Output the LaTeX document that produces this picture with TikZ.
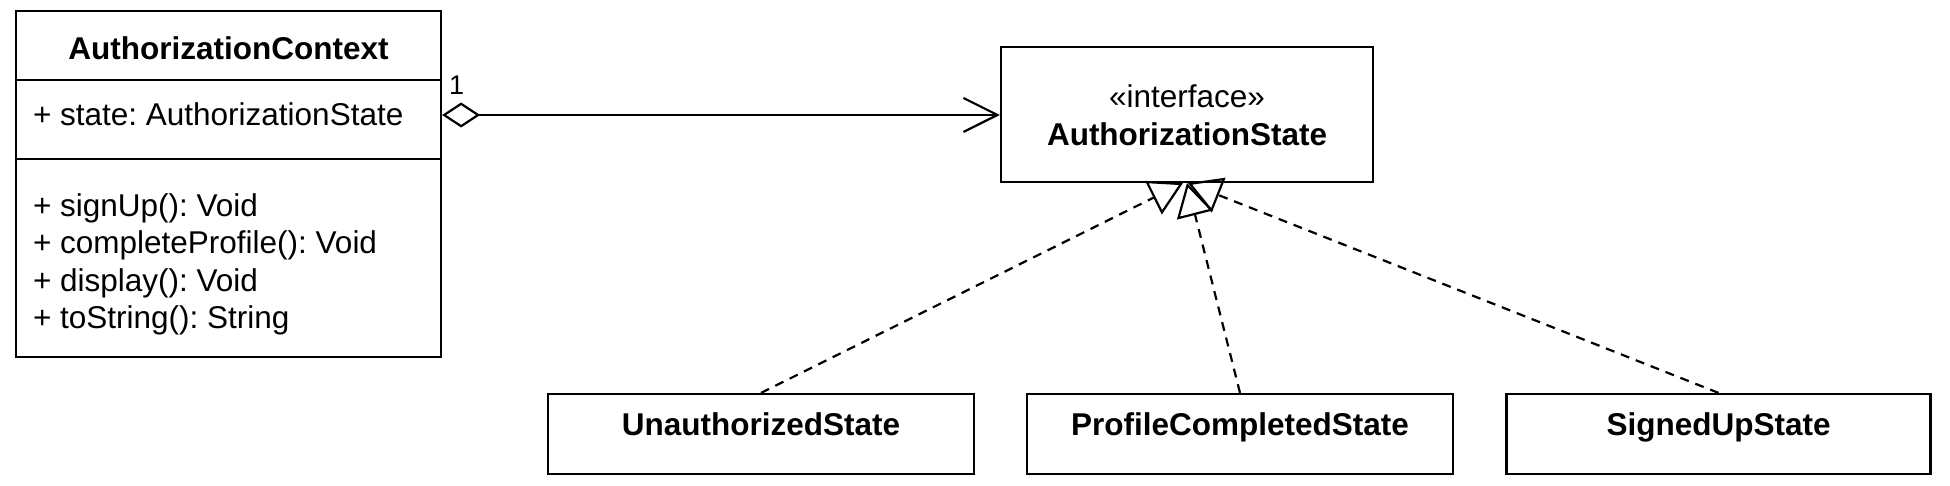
\documentclass[tikz,border=0pt]{standalone}
\usepackage{fontspec}
\setmainfont{Liberation Sans}
\usetikzlibrary{arrows.meta}
\frenchspacing
\begin{document}
\begin{tikzpicture}[x=1pt,y=-1pt,line width=2pt,
  umlbox/.style={draw,line width=2.2pt,rectangle,inner sep=0pt},
  txt/.style={inner sep=0pt,font=\fontsize{31.5}{37.5}\selectfont},
  btxt/.style={inner sep=0pt,font=\fontsize{31.5}{37.5}\selectfont\bfseries},
  multlabel/.style={inner sep=0pt,font=\fontsize{27}{32}\selectfont},
  assoc/.style={line width=2.2pt,{Diamond[open,length=38pt,width=25pt]}-{Straight Barb[length=34pt,width=34pt]}},
  realize/.style={line width=2.2pt,dash pattern=on 9pt off 7pt,-{Triangle[open,length=33pt,width=37pt]}}]
\useasboundingbox (0,0) rectangle (1950,486);
% context class
\node[umlbox,minimum width=425pt,minimum height=346pt] (ctx) at (228.5,184) {};
\coordinate (d1) at (0,80);
\coordinate (d2) at (0,159);
\draw[line width=2.2pt] (ctx.west |- d1) -- (ctx.east |- d1);
\draw[line width=2.2pt] (ctx.west |- d2) -- (ctx.east |- d2);
\node[btxt,anchor=base] (ctxname) at (228.5,60) {AuthorizationContext};
\node[txt,anchor=base west] (attr) at (32,126) {+ state: AuthorizationState};
\node[txt,anchor=base west] (m1) at (32,217) {+ signUp(): Void};
\node[txt,anchor=base west] (m2) at (32,254) {+ completeProfile(): Void};
\node[txt,anchor=base west] (m3) at (32,291) {+ display(): Void};
\node[txt,anchor=base west] (m4) at (32,328) {+ toString(): String};
% interface
\node[umlbox,minimum width=372pt,minimum height=135pt] (iface) at (1187,114.5) {};
\node[txt,anchor=base] (stereo) at (1187,108) {«interface»};
\node[btxt,anchor=base] (iname) at (1187,146) {AuthorizationState};
% association
\coordinate (a) at (0,115);
\draw[assoc] (ctx.east |- a) -- (iface.west |- a);
\node[multlabel,anchor=base west] (mult) at (448,95) {1};
% states
\node[umlbox,minimum width=426pt,minimum height=80pt] (unauth) at (761,434) {};
\node[btxt,anchor=base] (unauthname) at (761,435) {UnauthorizedState};
\node[umlbox,minimum width=426pt,minimum height=80pt] (prof) at (1240,434) {};
\node[btxt,anchor=base] (profname) at (1240,435) {ProfileCompletedState};
\node[umlbox,minimum width=424pt,minimum height=80pt] (signed) at (1718.5,434) {};
\node[btxt,anchor=base] (signedname) at (1718.5,435) {SignedUpState};
% realizations
\coordinate (t1) at (1183,183);
\coordinate (t2) at (1187,183);
\coordinate (t3) at (1188,183);
\draw[realize] (unauth.north) -- (t1);
\draw[realize] (prof.north) -- (t2);
\draw[realize] (signed.north) -- (t3);
\end{tikzpicture}
\end{document}
